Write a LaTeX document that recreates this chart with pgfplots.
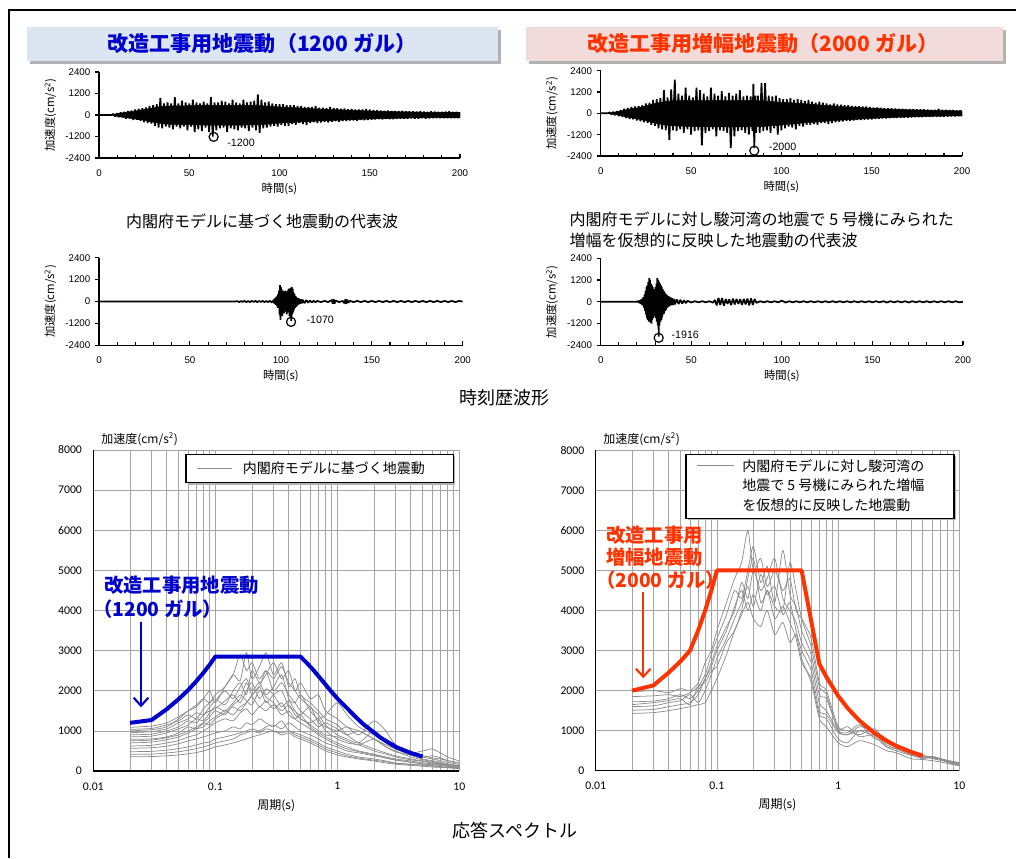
\documentclass[border=0pt]{standalone}
\usepackage{fontspec}
\setmainfont{Liberation Sans}
\newfontfamily\jp{Noto Sans CJK JP}
\newfontfamily\carlito{Carlito}
\usepackage{pgfplots}
\pgfplotsset{compat=1.18}
\usepackage{pgfplotstable}
\usetikzlibrary{arrows.meta}
\definecolor{tblue}{RGB}{0,0,204}
\definecolor{torange}{RGB}{255,51,0}
\definecolor{boxblue}{RGB}{220,230,242}
\definecolor{boxpink}{RGB}{242,220,219}
\definecolor{shadowgray}{RGB}{178,178,178}
\definecolor{gridgray}{RGB}{165,165,165}
\definecolor{curvegray}{RGB}{140,140,140}

\pgfplotstableread{
T A B C D E F G H I J K L M N
0.02 1090 1040 955 900 850 790 700 623 566 481 416 356 1000 750
0.03 1120 1060 980 920 870 800 720 640 580 490 420 360 1030 770
0.04 1200 1150 1050 1000 950 850 780 700 620 520 450 380 1100 830
0.05 1350 1250 1200 1100 1050 950 850 760 680 560 480 400 1300 900
0.06 1500 1400 1300 1250 1150 1100 950 850 750 600 520 430 1500 1000
0.07 1650 1300 1450 1200 1300 1050 1050 900 800 650 560 460 1600 1100
0.08 1800 1550 1400 1400 1250 1200 1100 1000 850 700 600 500 1800 1200
0.09 1700 1700 1600 1500 1450 1350 1250 1100 900 720 650 550 2000 1150
0.1 1900 1800 1750 1550 1600 1500 1350 1200 950 800 700 600 1700 1300
0.12 2100 1650 2000 1750 1500 1400 1500 1300 1000 850 750 650 2100 1450
0.14 2400 2000 1800 1900 1700 1650 1400 1250 1100 900 800 700 2400 1600
0.16 2250 2200 2100 1700 1900 1800 1600 1450 1050 950 900 750 2900 1500
0.18 2950 1900 2300 2000 1750 2200 1700 1550 1200 1000 950 800 2500 1700
0.2 2300 2500 2000 2200 1650 1900 1850 1400 1150 1050 1000 850 2700 1900
0.23 2600 2200 2200 1800 2000 2100 1600 1600 1300 1000 950 900 2300 2100
0.26 2950 2400 1900 2050 1850 1700 1750 1500 1200 1100 1050 950 2500 2500
0.3 2400 2700 2100 1900 1700 1900 1550 1650 1100 1150 1000 1000 2000 2300
0.35 2700 2300 2400 1600 1500 2000 1700 1400 1250 1050 900 950 2200 2600
0.4 2100 2500 1800 1750 1650 1600 1400 1500 1000 1200 950 1000 1900 2200
0.45 2300 2000 1700 1500 1400 1500 1300 1300 950 1100 850 900 1700 2000
0.5 1900 2200 1900 1400 1300 1300 1400 1200 900 1000 800 850 1500 1800
0.6 1700 1800 1500 1600 1150 1200 1100 1050 800 900 700 750 1300 1600
0.7 1500 1900 1300 1200 1000 1300 950 900 700 800 600 650 1100 1400
0.8 1300 1500 1400 1100 900 1000 850 800 600 700 500 550 1200 1150
1 1150 1300 1700 1000 850 800 700 650 500 600 400 450 1050 900
1.2 900 1100 1400 1100 750 700 600 550 420 500 350 380 900 800
1.5 700 1000 1100 900 650 650 500 480 350 450 300 320 1000 700
2 550 800 900 1250 800 500 420 400 300 380 250 270 800 1000
2.5 450 600 700 1000 600 420 350 330 250 320 200 230 650 700
3 380 500 550 650 480 350 300 280 200 270 170 190 550 550
4 300 350 420 450 400 280 250 220 170 220 140 160 450 400
5 250 280 350 380 350 240 200 180 150 180 120 140 500 300
6 220 240 300 330 380 200 180 160 130 160 100 120 550 260
7 180 200 260 300 330 170 150 140 110 140 90 100 450 220
8 160 170 220 260 260 140 130 120 90 120 80 90 350 180
10 120 130 160 200 200 100 90 80 70 90 60 70 250 130
}\specleft

\pgfplotstableread{
T R1 R2 R3 R4 R5 R6 R7
0.02 1970 1850 1720 1600 1510 1430 1650
0.03 2000 1870 1740 1620 1530 1450 1700
0.04 1950 1900 1800 1700 1600 1500 1750
0.05 2050 1850 1900 1750 1650 1550 1800
0.06 2000 1950 1800 1900 1700 1600 1650
0.07 2200 2100 2000 1700 1900 1650 2100
0.08 2700 2400 2300 2000 2300 1700 2200
0.09 3000 2900 2700 2400 2600 2000 2500
0.1 3500 3300 3100 2800 3000 2300 2600
0.12 4200 3900 3600 3300 3500 2900 3200
0.14 4800 4500 4000 3800 4100 3500 3500
0.16 5200 4300 4700 4200 4500 3900 4000
0.18 6000 5000 4300 4600 4000 4200 4800
0.2 5000 5600 5000 4100 4400 3800 5300
0.23 5300 4700 4500 4900 4000 3600 4200
0.26 4600 5100 4800 4400 4500 4000 4500
0.3 5000 4200 5300 4600 3800 3400 4100
0.35 4500 5500 4300 3900 4100 3700 4000
0.4 4800 4400 4000 4200 3700 3200 5200
0.45 4000 4100 3700 3500 3300 3400 4500
0.5 3800 3500 3200 3000 2700 2800 3800
0.6 3300 2900 2700 2500 2300 2200 3100
0.7 2200 1900 1700 1500 1400 1300 2100
0.8 2000 1800 1500 1400 1300 1100 1900
1 1100 1050 1000 950 800 700 1000
1.2 1000 1100 950 900 700 600 900
1.5 900 850 1150 1000 1000 750 1100
2 1050 900 800 850 950 650 1000
2.5 700 650 750 600 600 500 800
3 600 550 600 500 550 450 650
4 450 400 420 380 400 300 450
5 350 300 380 350 320 280 380
6 320 350 330 300 350 250 340
7 280 300 290 260 300 220 300
8 240 250 230 220 200 180 260
10 180 200 170 150 140 120 190
}\specright

\pgfplotsset{
 thist/.style={anchor=south west, scale only axis, xmin=0, xmax=200, ymin=-2400, ymax=2400,
   xtick={0,50,100,150,200},
   minor xtick={10,20,30,40,60,70,80,90,110,120,130,140,160,170,180,190},
   ytick={-2400,-1200,0,1200,2400},
   axis lines*=left, axis line style={line width=1.1pt},
   tick align=inside, major tick length=3pt, minor tick length=2.5pt,
   tick style={black, line width=0.8pt},
   ytick style={xshift=-3pt},
   /pgf/number format/1000 sep={}, /pgf/number format/assume math mode=true,
   tick label style={font=\fontsize{7.3}{8}\selectfont},
   yticklabel style={xshift=-3pt}, xticklabel style={yshift=-5pt},
   xlabel={時間(s)}, ylabel={加速度(cm/s\textsuperscript{2})},
   label style={font=\jp\fontsize{8.5}{10}\selectfont},
   xlabel style={yshift=2pt},
 },
 wave/.style={black, line width=1.3pt, line join=bevel},
 core/.style={fill=black, draw=black, line width=0.4pt},
 peak/.style={only marks, mark=o, mark size=3.4pt, mark options={line width=0.9pt, black}},
 spec/.style={anchor=south west, scale only axis, xmin=0.01, xmax=10, ymin=0, ymax=8000,
   xtick={0.01,0.1,1,10}, xticklabels={0.01,0.1,1,10},
   minor xtick={0.02,0.03,0.04,0.05,0.06,0.07,0.08,0.09,0.2,0.3,0.4,0.5,0.6,0.7,0.8,0.9,2,3,4,5,6,7,8,9},
   ytick={0,1000,2000,3000,4000,5000,6000,7000,8000},
   grid=both, major grid style={draw=gridgray, line width=0.55pt}, minor grid style={draw=gridgray, line width=0.55pt},
   axis lines*=left, axis line style={line width=1pt, black},
   major tick length=0pt, minor tick length=0pt,
   /pgf/number format/1000 sep={}, /pgf/number format/assume math mode=true,
   tick label style={font=\carlito\fontsize{8.8}{10}\selectfont},
   xticklabel style={yshift=-5pt}, yticklabel style={xshift=-5pt},
   xlabel={周期(s)}, label style={font=\jp\fontsize{9}{10}\selectfont},
 },
 gcurve/.style={curvegray, line width=0.55pt, smooth, tension=0.4},
}

\begin{document}
\begin{tikzpicture}
\begin{scope}[x=0.75pt,y=0.75pt]
\path[use as bounding box] (0,0) rectangle (1016,858);
\draw[black, line width=1pt] (9,0) -- (9,848) -- (1016,848);
% title boxes
\fill[shadowgray] (30,794) rectangle (501,828);
\fill[boxblue] (27,797) rectangle (498,831);
\fill[shadowgray] (529,794) rectangle (1006,828);
\fill[boxpink] (526,797) rectangle (1003,831);
\node[font=\jp\bfseries\fontsize{15.8}{18}\selectfont, text=tblue] at (262,814) {改造工事用地震動（1200 ガル）};
\node[font=\jp\bfseries\fontsize{15.8}{18}\selectfont, text=torange] at (763,814) {改造工事用増幅地震動（2000 ガル）};
\node[font=\jp\fontsize{12}{14}\selectfont] at (262,636.3) {内閣府モデルに基づく地震動の代表波};
\node[anchor=west, font=\jp\fontsize{12}{14}\selectfont] at (565,639) {内閣府モデルに対し駿河湾の地震で 5 号機にみられた};
\node[anchor=west, font=\jp\fontsize{12}{14}\selectfont] at (565,618) {増幅を仮想的に反映した地震動の代表波};
\node[font=\jp\fontsize{13.5}{16}\selectfont] at (504,460) {時刻歴波形};
\node[font=\jp\fontsize{13.5}{16}\selectfont] at (515,27) {応答スペクトル};
\coordinate (A1) at (99,700);
\coordinate (A2) at (600.7,702);
\coordinate (A3) at (99,512.7);
\coordinate (A4) at (600.7,512.7);
\coordinate (A5) at (93.3,87);
\coordinate (A6) at (595.7,87.3);
\end{scope}

% ---------- time history 1 (left) ----------
\begin{axis}[thist, at={(A1)}, width=270.75pt, height=64.5pt]
\addplot[core] coordinates {(7,0)(10,70)(15,150)(20,220)(25,300)(30,400)(35,480)(40,500)(50,520)(60,540)(70,540)(80,540)(90,520)(100,450)(110,400)(120,340)(130,300)(140,260)(150,220)(160,190)(170,170)(180,150)(190,140)(200,140)(200,-140)(190,-140)(180,-150)(170,-170)(160,-190)(150,-220)(140,-260)(130,-300)(120,-340)(110,-400)(100,-450)(90,-540)(80,-560)(70,-560)(60,-560)(50,-540)(40,-520)(35,-480)(30,-400)(25,-300)(20,-220)(15,-150)(10,-70)(7,0)};
\addplot[wave] coordinates {(0,0)(7,0)(8,60)(9,-80)(10,100)(11,-120)(12,150)(13,-130)(14,180)(15,-200)(16,220)(17,-180)(18,250)(19,-280)(20,300)(21,-260)(22,350)(23,-320)(24,380)(25,-400)(26,420)(27,-450)(28,500)(29,-480)(30,550)(31,-600)(32,600)(33,-700)(34,950)(35,-750)(36,650)(37,-650)(38,700)(39,-700)(40,650)(41,-800)(42,1000)(43,-650)(44,650)(45,-750)(46,800)(47,-650)(48,700)(49,-850)(50,650)(51,-650)(52,850)(53,-950)(54,700)(55,-800)(56,650)(57,-900)(58,750)(59,-700)(60,650)(61,-950)(62,1000)(63,-1200)(64,700)(65,-850)(66,700)(67,-750)(68,800)(69,-700)(70,750)(71,-950)(72,650)(73,-750)(74,850)(75,-800)(76,700)(77,-850)(78,650)(79,-700)(80,850)(81,-750)(82,700)(83,-900)(84,750)(85,-700)(86,800)(87,-850)(88,1150)(89,-1000)(90,850)(91,-750)(92,700)(93,-700)(94,750)(95,-650)(96,650)(97,-600)(98,600)(99,-650)(100,600)(101,-550)(102,600)(103,-600)(104,550)(105,-600)(106,550)(107,-500)(108,550)(109,-550)(110,500)(111,-450)(112,500)(113,-500)(114,450)(115,-550)(116,450)(117,-450)(118,450)(119,-400)(120,500)(121,-450)(122,400)(123,-420)(124,400)(125,-380)(126,380)(127,-420)(128,450)(129,-380)(130,380)(131,-350)(132,380)(133,-380)(134,350)(135,-330)(136,360)(137,-340)(138,320)(139,-300)(140,340)(141,-310)(142,300)(143,-320)(144,300)(145,-280)(146,300)(147,-290)(148,340)(149,-280)(150,300)(151,-260)(152,270)(153,-250)(154,260)(155,-240)(156,250)(157,-250)(158,240)(159,-220)(160,250)(161,-230)(162,220)(163,-240)(164,220)(165,-210)(166,220)(167,-200)(168,230)(169,-210)(170,200)(171,-210)(172,210)(173,-190)(174,200)(175,-200)(176,190)(177,-200)(178,210)(179,-180)(180,190)(181,-200)(182,180)(183,-190)(184,200)(185,-180)(186,190)(187,-170)(188,180)(189,-180)(190,170)(191,-180)(192,190)(193,-170)(194,200)(195,-180)(196,170)(197,-180)(198,180)(199,-170)(200,160)};
\addplot[peak] coordinates {(63.5,-1220)};
\node[anchor=west, inner sep=0, font=\fontsize{8}{9}\selectfont] at (axis cs:71,-1540) {-1200};
\end{axis}

% ---------- time history 1 (right) ----------
\begin{axis}[thist, at={(A2)}, width=271pt, height=64pt]
\addplot[core] coordinates {(4,0)(10,100)(15,220)(20,300)(25,420)(30,550)(35,650)(40,700)(50,720)(60,720)(70,720)(80,720)(90,700)(100,620)(110,560)(120,480)(130,400)(140,340)(150,280)(160,230)(170,200)(180,170)(190,150)(200,140)(200,-140)(190,-150)(180,-170)(170,-200)(160,-230)(150,-280)(140,-340)(130,-400)(120,-480)(110,-560)(100,-650)(90,-740)(80,-760)(70,-760)(60,-760)(50,-740)(40,-700)(35,-650)(30,-550)(25,-420)(20,-300)(15,-220)(10,-100)(4,0)};
\addplot[wave] coordinates {(0,0)(4,0)(5,50)(6,-60)(7,80)(8,-100)(9,120)(10,-150)(11,180)(12,-200)(13,250)(14,-260)(15,300)(16,-320)(17,350)(18,-340)(19,380)(20,-400)(21,420)(22,-450)(23,450)(24,-500)(25,550)(26,-550)(27,600)(28,-650)(29,750)(30,-700)(31,800)(32,-850)(33,850)(34,-900)(35,1300)(36,-950)(37,900)(38,-1500)(39,1350)(40,-950)(41,1900)(42,-1000)(43,1100)(44,-900)(45,1000)(46,-1100)(47,1450)(48,-900)(49,1000)(50,-1200)(51,900)(52,-1000)(53,1450)(54,-950)(55,1300)(56,-1800)(57,1100)(58,-1100)(59,950)(60,-1000)(61,1450)(62,-900)(63,1100)(64,-1300)(65,1000)(66,-950)(67,1250)(68,-1000)(69,950)(70,-1100)(71,1150)(72,-1950)(73,1000)(74,-1300)(75,1100)(76,-1000)(77,1300)(78,-950)(79,950)(80,-1100)(81,1000)(82,-1200)(83,950)(84,-1000)(84.5,1650)(85,-1950)(85.5,1000)(86,-1100)(87,1000)(88,-1100)(89,1700)(90,-1000)(91,1700)(92,-950)(93,1000)(94,-1100)(95,950)(96,-850)(97,1000)(98,-1200)(99,850)(100,-950)(101,800)(102,-850)(103,800)(104,-750)(105,850)(106,-800)(107,750)(108,-900)(109,800)(110,-700)(111,750)(112,-750)(113,700)(114,-650)(115,750)(116,-650)(117,650)(118,-600)(119,600)(120,-650)(121,650)(122,-550)(123,600)(124,-550)(125,550)(126,-600)(127,500)(128,-550)(129,550)(130,-500)(131,500)(132,-480)(133,480)(134,-460)(135,450)(136,-420)(137,460)(138,-420)(139,420)(140,-400)(141,420)(142,-380)(143,400)(144,-380)(145,380)(146,-360)(147,380)(148,-350)(149,360)(150,-340)(151,330)(152,-320)(153,330)(154,-300)(155,310)(156,-290)(157,300)(158,-290)(159,280)(160,-270)(161,280)(162,-260)(163,270)(164,-260)(165,260)(166,-250)(167,250)(168,-250)(169,240)(170,-240)(171,240)(172,-230)(173,240)(174,-220)(175,230)(176,-220)(177,220)(178,-210)(179,220)(180,-200)(181,210)(182,-200)(183,200)(184,-190)(185,200)(186,-190)(187,250)(188,-190)(189,190)(190,-180)(191,190)(192,-180)(193,180)(194,-170)(195,180)(196,-170)(197,170)(198,-160)(199,170)(200,-160)};
\addplot[peak] coordinates {(85,-2100)};
\node[anchor=west, inner sep=0, font=\fontsize{8}{9}\selectfont] at (axis cs:93,-1910) {-2000};
\end{axis}

% ---------- time history 2 (left) ----------
\begin{axis}[thist, at={(A3)}, width=272.8pt, height=65.7pt]
\addplot[wave] coordinates {(0,0)(75,0)(76,20)(77,-30)(78,25)(79,-20)(80,30)(81,-30)(82,20)(83,-30)(84,30)(85,-25)(86,30)(87,-30)(88,25)(89,-20)(90,30)(91,-30)(92,25)(93,-30)(94,30)(95,-50)(96,80)(96.25,-100)(96.5,150)(96.75,-120)(97,200)(97.25,-180)(97.5,250)(97.75,-220)(98,300)(98.25,-350)(98.5,400)(98.75,-300)(99,600)(99.25,-700)(99.5,900)(99.75,-1000)(100,800)(100.25,-600)(100.5,650)(100.75,-800)(101,600)(101.25,-500)(101.5,550)(101.75,-650)(102,500)(102.25,-550)(102.5,600)(102.75,-500)(103,550)(103.25,-700)(103.5,500)(103.75,-600)(104,650)(104.25,-550)(104.5,700)(104.75,-800)(105,600)(105.25,-900)(105.5,750)(105.75,-1070)(106,800)(106.25,-700)(106.5,700)(106.75,-600)(107,500)(107.25,-450)(107.5,400)(107.75,-350)(108,300)(108.25,-300)(108.5,250)(108.75,-250)(109,200)(109.25,-200)(109.5,180)(109.75,-150)(110,150)(110.5,-130)(111,120)(111.5,-110)(112,100)(113,-90)(114,80)(115,-60)(116,50)(117,-50)(118,40)(119,-40)(120,30)(122,-30)(124,30)(126,-30)(128,80)(128.5,-120)(129,130)(129.5,-120)(130,50)(132,-30)(134,30)(135,-100)(135.5,120)(136,-130)(136.5,110)(137,-60)(138,30)(140,-30)(142,30)(144,-30)(146,30)(148,-30)(150,30)(152,-30)(154,30)(156,-30)(158,30)(160,-30)(162,30)(164,-30)(166,30)(168,-30)(170,30)(172,-30)(174,30)(176,-30)(178,30)(180,-30)(182,30)(184,-30)(186,30)(188,-30)(190,30)(192,-30)(194,30)(196,-30)(198,30)(200,0)};
\addplot[peak] coordinates {(105.6,-1116)};
\node[anchor=west, inner sep=0, font=\fontsize{8}{9}\selectfont] at (axis cs:114,-980) {-1070};
\end{axis}

% ---------- time history 2 (right) ----------
\begin{axis}[thist, at={(A4)}, width=271.7pt, height=65.3pt]
\addplot[wave] coordinates {(0,0)(20,0)(20.5,40)(21,-60)(21.5,80)(22,-120)(22.5,150)(23,-200)(23.5,250)(24,-350)(24.25,400)(24.5,-500)(24.75,600)(25,-700)(25.25,800)(25.5,-900)(25.75,900)(26,-1000)(26.25,1100)(26.5,-1100)(26.75,1300)(27,-1000)(27.25,1200)(27.5,-1150)(27.75,1000)(28,-1200)(28.25,900)(28.5,-1000)(28.75,800)(29,-900)(29.25,700)(29.5,-800)(29.75,600)(30,-700)(30.25,800)(30.5,-900)(30.75,1000)(31,-1100)(31.25,1300)(31.5,-1300)(31.75,1200)(32,-1916)(32.25,1100)(32.5,-1300)(32.75,1000)(33,-1100)(33.25,900)(33.5,-1000)(33.75,800)(34,-850)(34.25,700)(34.5,-700)(34.75,600)(35,-650)(35.25,550)(35.5,-500)(35.75,450)(36,-450)(36.25,400)(36.5,-350)(36.75,350)(37,-300)(37.5,300)(38,-250)(38.5,250)(39,-200)(39.5,200)(40,-180)(40.5,150)(41,-140)(42,130)(43,-120)(44,110)(45,-100)(46,80)(47,-70)(48,50)(50,-40)(52,30)(54,-30)(56,30)(58,-30)(60,30)(62,-50)(63,100)(64,-200)(65,220)(66,-180)(67,200)(68,-220)(69,150)(70,-120)(71,130)(72,-180)(73,170)(74,-150)(75,160)(76,-120)(77,140)(78,-170)(79,160)(80,-150)(81,180)(82,-200)(83,190)(84,-170)(85,150)(86,-60)(88,30)(90,-30)(92,30)(94,-30)(96,30)(98,-30)(100,60)(102,-40)(104,30)(106,-30)(108,30)(110,-30)(112,30)(114,-30)(116,30)(118,-30)(120,30)(122,-30)(124,30)(126,-30)(128,30)(130,-30)(132,30)(134,-30)(136,30)(138,-30)(140,30)(142,-30)(144,30)(146,-30)(148,30)(150,-30)(152,30)(154,-30)(156,30)(158,-40)(160,30)(162,-30)(164,30)(166,-30)(168,30)(170,-40)(172,30)(174,-30)(176,30)(178,-30)(180,30)(182,-30)(184,30)(186,-30)(188,30)(190,-30)(192,30)(194,-30)(196,30)(198,-30)(200,0)};
\addplot[peak] coordinates {(32,-1986)};
\node[anchor=west, inner sep=0, font=\fontsize{8}{9}\selectfont] at (axis cs:39,-1850) {-1916};
\end{axis}

% ---------- spectrum left ----------
\begin{axis}[xmode=log, spec, at={(A5)}, width=274.5pt, height=240.75pt]
\pgfplotsinvokeforeach{A,B,C,D,E,F,G,H,I,J,K,L,M,N}{
  \addplot[gcurve] table[x=T, y=#1] {\specleft};
}
\addplot[tblue, line width=3pt, line join=round] coordinates {(0.02,1200)(0.03,1270)(0.04,1540)(0.05,1790)(0.06,2020)(0.07,2240)(0.08,2450)(0.09,2650)(0.1,2850)(0.5,2850)(0.56,2700)(0.636,2517)(0.75,2260)(0.871,2019)(1.0,1810)(1.19,1580)(1.4,1360)(1.63,1170)(2.0,960)(2.24,840)(2.6,720)(3.07,590)(4.0,450)(5,360)};
\end{axis}

% ---------- spectrum right ----------
\begin{axis}[xmode=log, spec, at={(A6)}, width=272.7pt, height=240.3pt]
\pgfplotsinvokeforeach{R1,R2,R3,R4,R5,R6,R7}{
  \addplot[gcurve] table[x=T, y=#1] {\specright};
}
\addplot[torange, line width=3pt, line join=round] coordinates {(0.02,2000)(0.03,2130)(0.04,2450)(0.05,2730)(0.06,3000)(0.07,3500)(0.08,4000)(0.09,4500)(0.1,5000)(0.5,5000)(0.7,2670)(0.8,2340)(1,1870)(1.2,1560)(1.5,1250)(2,935)(2.5,750)(3,623)(4,468)(5,374)};
\end{axis}

\begin{scope}[x=0.75pt,y=0.75pt]
% y labels of spectra
\node[anchor=west, inner sep=0, font=\jp\fontsize{9}{10}\selectfont] at (101,419) {加速度(cm/s\textsuperscript{2})};
\node[anchor=west, inner sep=0, font=\jp\fontsize{9}{10}\selectfont] at (603,419) {加速度(cm/s\textsuperscript{2})};
% legend left
\fill[shadowgray] (188,373.3) rectangle (455.3,401.7);
\draw[black, line width=1pt, fill=white] (186,375.3) rectangle (453.3,403.7);
\draw[curvegray, line width=0.7pt] (196.7,389.5) -- (231.7,389.5);
\node[anchor=west, inner sep=0, font=\jp\fontsize{10.5}{12}\selectfont] at (242.7,389.5) {内閣府モデルに基づく地震動};
% legend right
\fill[shadowgray] (688,337.7) rectangle (956,401.7);
\draw[black, line width=1pt, fill=white] (686,339.7) rectangle (954,403.7);
\draw[curvegray, line width=0.7pt] (696.7,392.3) -- (734.3,392.3);
\node[anchor=west, inner sep=0, font=\jp\fontsize{10.5}{12}\selectfont] at (742,392.3) {内閣府モデルに対し駿河湾の};
\node[anchor=west, inner sep=0, font=\jp\fontsize{10.5}{12}\selectfont] at (742,373) {地震で 5 号機にみられた増幅};
\node[anchor=west, inner sep=0, font=\jp\fontsize{10.5}{12}\selectfont] at (742,353) {を仮想的に反映した地震動};
% annotations
\node[anchor=west, inner sep=0, font=\jp\bfseries\fontsize{14.5}{16}\selectfont, text=tblue] at (104,272.3) {改造工事用地震動};
\node[anchor=west, inner sep=0, font=\jp\bfseries\fontsize{14.5}{16}\selectfont, text=tblue] at (93,248.7) {（1200 ガル）};
\draw[tblue, line width=1.6pt, -{Straight Barb[length=6pt,width=11pt]}] (141,236.3) -- (141,150.7);
\node[anchor=west, inner sep=0, font=\jp\bfseries\fontsize{14.5}{16}\selectfont, text=torange] at (606,323) {改造工事用};
\node[anchor=west, inner sep=0, font=\jp\bfseries\fontsize{14.5}{16}\selectfont, text=torange] at (606,301.3) {増幅地震動};
\node[anchor=west, inner sep=0, font=\jp\bfseries\fontsize{14.5}{16}\selectfont, text=torange] at (596,278) {（2000 ガル）};
\draw[torange, line width=1.6pt, -{Straight Barb[length=6pt,width=11pt]}] (643.3,266.3) -- (643.3,179.7);
\end{scope}
\end{tikzpicture}
\end{document}
